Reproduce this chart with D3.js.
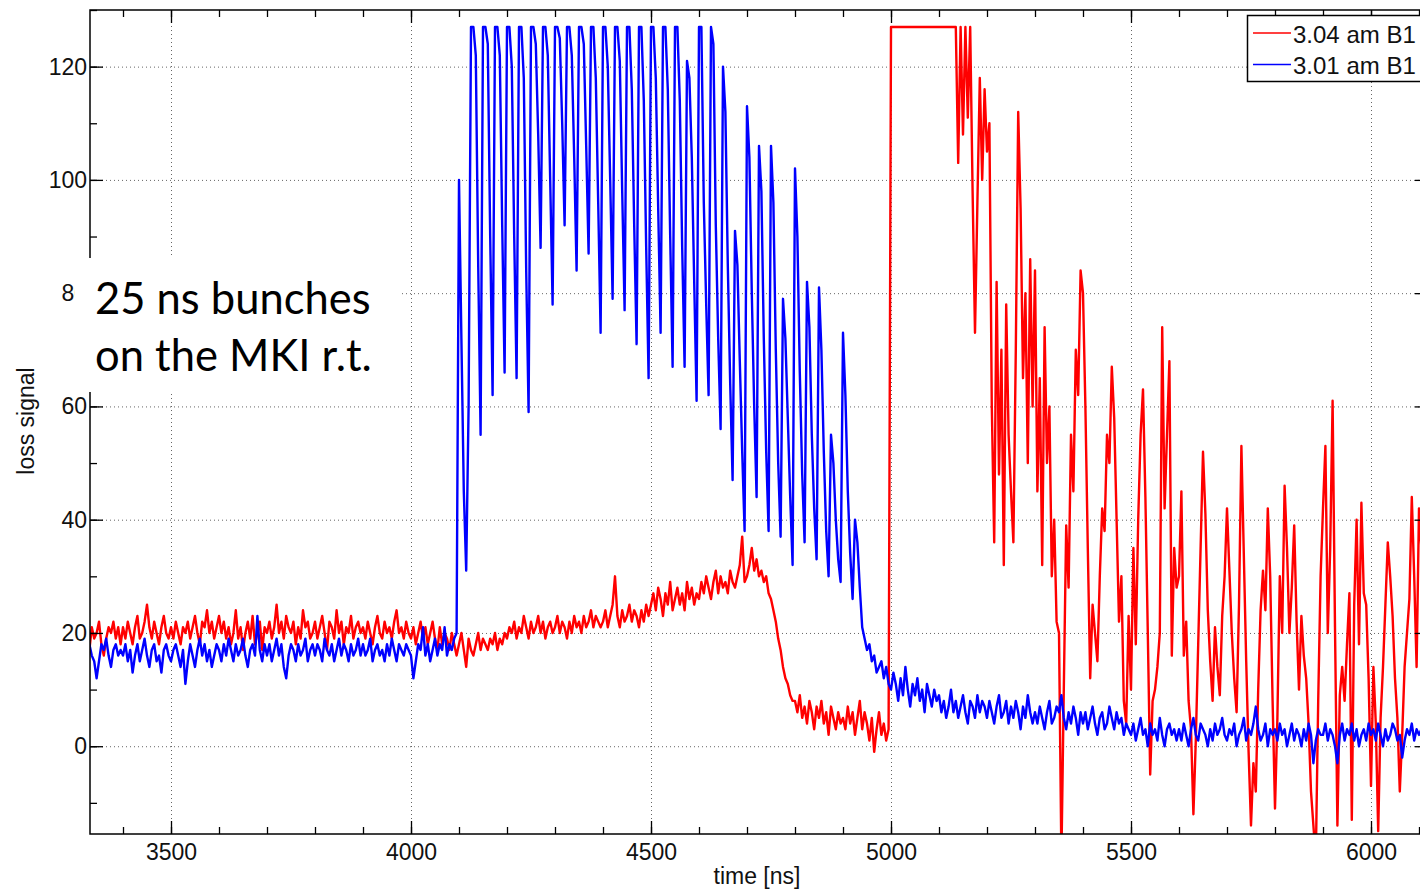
<!DOCTYPE html>
<html>
<head>
<meta charset="utf-8">
<script src="https://cdn.jsdelivr.net/npm/d3@7"></script>
<style>
  body { margin: 0; background: #fff; }
  svg { display: block; }
  text { font-family: "Liberation Sans", Arial, sans-serif; fill: #111; }
</style>
</head>
<body>
<script>
// sampled traces, one value every 5 ns starting at 3300 ns
const tStart = 3300;
const tStep = 5;

const redLoss = [
  20,18,21,19,22,20,17,21,19,20,22,18,16,19,21,20,22,19,21,18, // 3300
  21,19,22,20,18,21,23,19,20,22,25,21,19,22,20,18,21,23,20,19, // 3400
  21,19,22,20,18,21,20,22,19,21,23,20,18,22,21,24,20,22,19,21, // 3500
  23,20,22,19,21,18,20,24,19,21,17,20,22,19,23,18,20,22,17,21, // 3600
  20,22,19,21,25,20,22,19,23,21,20,22,18,21,19,24,21,22,19,20, // 3700
  22,19,21,23,20,17,22,21,19,24,20,22,18,21,20,23,19,21,22,20, // 3800
  21,19,22,20,18,21,23,20,19,22,20,21,19,22,24,20,21,19,22,20, // 3900
  19,21,18,20,22,19,21,18,20,22,19,17,21,18,20,19,17,20,18,16, // 4000
  18,20,17,14,19,17,16,18,20,17,19,18,17,19,18,20,17,19,18,20, // 4100
  19,21,20,22,19,21,20,23,21,19,22,20,21,23,20,22,19,21,22,20, // 4200
  21,23,20,22,21,19,22,20,23,21,22,20,23,21,22,24,21,23,22,21, // 4300
  22,24,21,23,25,30,23,21,24,22,23,25,22,24,23,21,24,22,25,23, // 4400
  25,27,24,28,26,23,27,25,29,24,26,28,25,27,24,29,26,28,25,27, // 4500
  26,29,27,30,28,26,29,31,27,30,28,29,27,31,29,28,30,32,37,29, // 4600
  30,32,35,31,33,30,31,29,30,27,26,24,22,19,17,14,12,11,9,8,   // 4700
  8,6,9,5,7,4,8,6,3,7,5,8,4,6,2,7,5,3,6,4,                     // 4800
  5,3,7,4,6,2,5,8,3,6,4,1,5,-1,3,6,2,4,1,3,                    // 4900
  127,127,127,127,127,127,127,127,127,127,127,127,127,127,127,127,127,127,127,127, // 5000
  127,127,127,127,127,127,127,127,103,127,108,127,111,127,98,73,96,118,100,116,   // 5100
  105,110,60,36,82,48,70,32,78,55,45,36,70,112,95,65,80,50,86,60, // 5200
  84,45,65,32,74,50,60,30,40,22,20,-20,10,39,28,55,45,70,62,84,   // 5300
  80,60,35,12,25,20,15,30,42,38,55,50,67,58,40,22,30,8,4,23,      // 5400
  10,35,18,40,55,63,44,20,-5,8,10,14,20,74,42,55,68,16,35,28,     // 5500
  30,45,16,22,8,3,-12,1,18,35,52,41,24,15,8,21,14,9,23,30,        // 5600
  42,31,20,12,6,25,53,34,15,-1,-14,-3,-8,10,24,31,24,42,30,8,     // 5700
  -11,5,30,20,46,35,20,28,39,22,10,23,16,12,4,-8,-14,-20,8,30,    // 5800
  42,53,20,35,61,21,-14,9,14,8,18,27,-13,25,40,18,43,27,25,12,    // 5900
  -7,14,4,-15,5,14,25,36,30,23,12,5,-8,2,14,20,26,44,30,14,       // 6000
  42,35,20,25,30                                                  // 6100
];

const blueLoss = [
  17,18,16,17,19,17,18,16,15,12,15,18,17,19,16,14,17,18,16,17, // 3300
  16,18,15,17,13,16,18,15,17,19,16,14,17,18,15,16,13,17,18,16, // 3400
  15,17,18,16,14,17,11,15,18,16,14,17,19,16,18,15,17,14,16,18, // 3500
  17,15,18,16,19,17,15,18,16,17,19,16,14,17,18,16,23,17,15,18, // 3600
  16,18,15,17,19,16,18,14,12,16,18,17,15,18,16,17,19,15,17,18, // 3700
  16,18,17,15,19,17,16,18,15,17,19,16,18,17,15,18,16,17,19,16, // 3800
  18,16,17,19,15,17,18,16,17,15,18,16,19,17,15,18,17,16,18,17, // 3900
  16,12,15,18,17,21,16,18,15,17,19,16,18,17,21,16,18,17,19,20, // 4000
  100,72,45,31,60,127,127,122,85,55,127,127,124,90,62,127,127,122,92,66,      // 4100
  127,127,120,90,65,127,127,118,84,59,127,127,124,108,88,127,127,122,100,78,  // 4200
  127,127,125,110,92,127,127,122,104,84,127,127,124,106,87,127,127,118,96,73, // 4300
  127,127,120,100,79,127,127,121,98,77,127,127,116,92,71,127,127,114,88,65,   // 4400
  127,127,118,95,73,127,127,116,90,67,127,127,114,88,67,121,118,104,82,61,    // 4500
  127,127,96,78,62,127,124,92,72,56,120,112,85,64,47,91,85,68,52,38,          // 4600
  113,104,80,60,44,106,98,72,52,38,106,96,70,50,37,79,72,58,44,32,            // 4700
  102,90,66,48,36,82,74,55,42,33,81,70,52,38,30,55,50,40,33,29,               // 4800
  73,62,45,34,26,40,36,28,21,19,17,18,15,16,13,14,15,12,14,11,                // 4900
  10,13,11,8,12,9,14,10,7,11,9,12,8,10,6,11,9,7,10,8, // 5000
  9,6,8,5,7,10,6,8,5,7,9,6,4,8,7,5,9,6,8,7,           // 5100
  5,8,6,4,7,9,5,6,8,4,7,5,8,6,3,7,5,9,6,4,            // 5200
  6,4,7,5,3,6,8,4,5,7,6,9,5,3,6,4,7,5,2,6,            // 5300
  4,6,3,5,7,4,2,5,6,3,4,7,5,3,6,4,5,2,4,3,            // 5400
  2,4,1,3,5,2,3,0,4,2,3,1,5,2,0,3,4,2,3,1,            // 5500
  3,1,4,2,0,3,5,2,1,4,3,2,0,3,1,4,2,3,5,2,            // 5600
  1,3,2,4,0,2,3,5,1,3,2,4,7,3,1,2,4,0,3,2,            // 5700
  3,1,4,2,3,0,2,4,1,3,2,0,3,1,4,2,-3,1,3,2,           // 5800
  2,4,1,3,2,0,-3,2,4,1,3,2,4,1,3,0,2,3,1,4,           // 5900
  2,3,1,4,2,0,3,1,2,4,3,1,2,-2,1,3,2,4,1,3,           // 6000
  2,3,1,4,2                                           // 6100
];

const seriesNames = ["3.04 am B1", "3.01 am B1"];
const seriesColors = ["#ff0000", "#0000ff"];

const xTicks = [3500, 4000, 4500, 5000, 5500, 6000];
const xMinorTicks = d3.range(3400, 6101, 100);
const yTicks = [0, 20, 40, 60, 80, 100, 120];
const yMinorTicks = d3.range(-10, 131, 10);

const width = 1420;
const height = 891;

const svg = d3.select("body")
              .append("svg")
              .attr("width", width)
              .attr("height", height);

const x = d3.scaleLinear()
            .domain([3331.25, 6118.75])
            .range([90, 1428]);

const y = d3.scaleLinear()
            .domain([-15.5, 130])
            .range([834, 10]);

const [plotLeft, plotRight] = x.range();
const [plotBottom, plotTop] = y.range();

svg.append("defs")
  .append("clipPath")
  .attr("id", "plot-clip")
  .append("rect")
  .attr("x", plotLeft)
  .attr("y", plotTop)
  .attr("width", plotRight - plotLeft)
  .attr("height", plotBottom - plotTop);

// dotted grid
const grid = svg.append("g")
  .attr("stroke", "#666")
  .attr("stroke-width", 1)
  .attr("stroke-dasharray", "1,3");

grid.selectAll(".vgrid")
  .data(xTicks)
  .enter()
  .append("line")
  .attr("x1", d => x(d) + 0.5)
  .attr("x2", d => x(d) + 0.5)
  .attr("y1", plotTop)
  .attr("y2", plotBottom);

grid.selectAll(".hgrid")
  .data(yTicks)
  .enter()
  .append("line")
  .attr("x1", plotLeft)
  .attr("x2", plotRight)
  .attr("y1", d => y(d) + 0.5)
  .attr("y2", d => y(d) + 0.5);

// traces
const line = d3.line()
  .x((d, i) => x(tStart + i * tStep))
  .y(d => y(d));

const traces = svg.append("g").attr("clip-path", "url(#plot-clip)");

[redLoss, blueLoss].forEach((series, k) => {
  traces.append("path")
    .datum(series)
    .attr("fill", "none")
    .attr("stroke", seriesColors[k])
    .attr("stroke-width", 2.4)
    .attr("stroke-linejoin", "round")
    .attr("d", line);
});

// axes with inward ticks
function styleAxis(g) {
  g.select(".domain").remove();
  g.selectAll(".tick line").attr("stroke", "#000").attr("stroke-width", 1.3);
  g.selectAll(".tick text")
    .attr("fill", "#111")
    .style("font-family", '"Liberation Sans", Arial, sans-serif')
    .style("font-size", "23px");
}

const fmt = d3.format("d");

svg.append("g")
  .attr("transform", `translate(0,${plotBottom})`)
  .call(d3.axisBottom(x).tickValues(xMinorTicks).tickSize(-7).tickFormat(""))
  .call(styleAxis);

svg.append("g")
  .attr("transform", `translate(0,${plotBottom})`)
  .call(d3.axisBottom(x).tickValues(xTicks).tickSize(-13).tickPadding(10).tickFormat(fmt))
  .call(styleAxis);

svg.append("g")
  .attr("transform", `translate(0,${plotTop})`)
  .call(d3.axisTop(x).tickValues(xMinorTicks).tickSize(-7).tickFormat(""))
  .call(styleAxis);

svg.append("g")
  .attr("transform", `translate(0,${plotTop})`)
  .call(d3.axisTop(x).tickValues(xTicks).tickSize(-13).tickFormat(""))
  .call(styleAxis);

svg.append("g")
  .attr("transform", `translate(${plotLeft},0)`)
  .call(d3.axisLeft(y).tickValues(yMinorTicks).tickSize(-7).tickFormat(""))
  .call(styleAxis);

svg.append("g")
  .attr("transform", `translate(${plotLeft},0)`)
  .call(d3.axisLeft(y).tickValues(yTicks).tickSize(-13).tickPadding(3).tickFormat(fmt))
  .call(styleAxis);

svg.append("g")
  .attr("transform", `translate(${plotRight},0)`)
  .call(d3.axisRight(y).tickValues(yMinorTicks).tickSize(-7).tickFormat(""))
  .call(styleAxis);

svg.append("g")
  .attr("transform", `translate(${plotRight},0)`)
  .call(d3.axisRight(y).tickValues(yTicks).tickSize(-13).tickFormat(""))
  .call(styleAxis);

// frame
svg.append("rect")
  .attr("x", plotLeft)
  .attr("y", plotTop)
  .attr("width", plotRight - plotLeft)
  .attr("height", plotBottom - plotTop)
  .attr("fill", "none")
  .attr("stroke", "#000")
  .attr("stroke-width", 1.5);

// axis titles
svg.append("text")
  .attr("x", 757)
  .attr("y", 884)
  .attr("text-anchor", "middle")
  .style("font-size", "23px")
  .text("time [ns]");

svg.append("text")
  .attr("transform", "translate(34,421) rotate(-90)")
  .attr("text-anchor", "middle")
  .style("font-size", "23px")
  .text("loss signal");

// legend
const legend = svg.append("g");

legend.append("rect")
  .attr("x", 1247.5)
  .attr("y", 15.5)
  .attr("width", 200)
  .attr("height", 66)
  .attr("fill", "#fff")
  .attr("stroke", "#000")
  .attr("stroke-width", 1.5);

seriesNames.forEach((name, k) => {
  legend.append("line")
    .attr("x1", 1253)
    .attr("x2", 1291)
    .attr("y1", 33 + k * 31.5)
    .attr("y2", 33 + k * 31.5)
    .attr("stroke", seriesColors[k])
    .attr("stroke-width", 1.5);
  legend.append("text")
    .attr("x", 1293)
    .attr("y", 42.5 + k * 31.5)
    .style("font-size", "24px")
    .text(name);
});

// annotation box
svg.append("rect")
  .attr("x", 75)
  .attr("y", 258)
  .attr("width", 325)
  .attr("height", 134)
  .attr("fill", "#fff");

const note = svg.append("text")
  .style("font-family", "Lato, 'Open Sans', sans-serif")
  .style("font-size", "43.5px")
  .style("fill", "#000");

note.append("tspan").attr("x", 95).attr("y", 314).text("25 ns bunches");
note.append("tspan").attr("x", 95).attr("y", 371).text("on the MKI r.t.");
</script>
</body>
</html>
